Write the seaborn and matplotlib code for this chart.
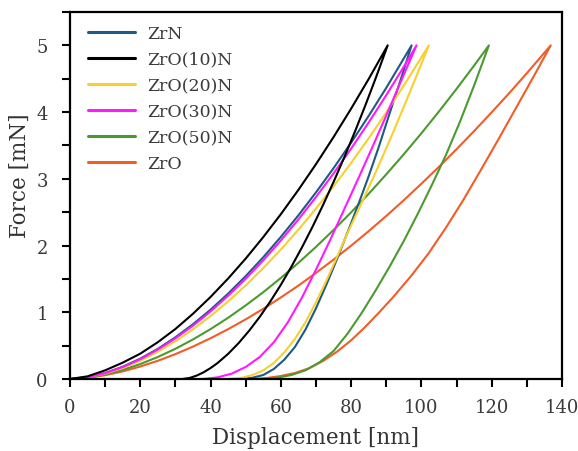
import numpy as np
import pandas as pd
import matplotlib
matplotlib.use("Agg")
import matplotlib.pyplot as plt
import seaborn as sns
from matplotlib.ticker import MultipleLocator
from matplotlib.lines import Line2D

samples = ["ZrN", "ZrO(10)N", "ZrO(20)N", "ZrO(30)N", "ZrO(50)N", "ZrO"]
colors = ["#1c5b82", "#000000", "#f9cf2f", "#ff19ff", "#4a9b2f", "#f25c27"]

# ZrN
zrn_load_h = [0, 5, 10, 15, 20, 25, 30, 35, 40, 45, 50, 55, 60, 65, 70, 75, 80, 85, 90, 97.2]
zrn_load_f = [0, 0.027, 0.089, 0.184, 0.305, 0.452, 0.625, 0.821, 1.039, 1.280, 1.542, 1.825,
              2.130, 2.453, 2.797, 3.160, 3.542, 3.944, 4.364, 5.0]
zrn_unl_h = [97.2, 94, 91, 88, 85, 82, 79, 76, 73, 70, 67, 64, 61, 58, 55, 52, 49]
zrn_unl_f = [5.0, 4.47, 3.99, 3.5, 3.04, 2.61, 2.2, 1.8, 1.42, 1.06, 0.74, 0.48, 0.29, 0.15,
             0.06, 0.02, 0]

# ZrO(10)N
z10_load_h = [0, 5, 10, 15, 20, 25, 30, 35, 40, 45, 50, 55, 60, 65, 70, 75, 80, 85, 90.4]
z10_load_f = [0, 0.04, 0.13, 0.245, 0.38, 0.552, 0.75, 0.978, 1.23, 1.506, 1.805, 2.127,
              2.47, 2.835, 3.22, 3.626, 4.052, 4.497, 5.0]
z10_unl_h = [90.4, 87, 84, 81, 78, 75, 72, 69, 66, 63, 60, 57, 54, 51, 48, 45, 42, 40, 38, 36, 34, 32]
z10_unl_f = [5.0, 4.51, 4.095, 3.697, 3.317, 2.953, 2.607, 2.28, 1.972, 1.683, 1.412, 1.162,
             0.932, 0.725, 0.539, 0.377, 0.24, 0.164, 0.1, 0.05, 0.015, 0]

# ZrO(20)N
z20_load_h = [0, 5, 10, 15, 20, 25, 30, 35, 40, 45, 50, 55, 60, 65, 70, 75, 80, 85, 90, 95, 102.1]
z20_load_f = [0, 0.023, 0.08, 0.165, 0.275, 0.408, 0.565, 0.744, 0.943, 1.163, 1.403, 1.663,
              1.941, 2.238, 2.554, 2.888, 3.238, 3.608, 3.995, 4.399, 5.0]
z20_unl_h = [102.1, 98.5, 95, 91, 87, 83, 79, 76, 73, 70, 67, 64, 61, 58, 55, 52, 49, 45.5]
z20_unl_f = [5.0, 4.53, 4.08, 3.58, 3.1, 2.64, 2.19, 1.83, 1.48, 1.15, 0.85, 0.6, 0.4, 0.24,
             0.13, 0.06, 0.02, 0]

# ZrO(30)N
z30_load_h = [0, 5, 10, 15, 20, 25, 30, 35, 40, 45, 50, 55, 60, 65, 70, 75, 80, 85, 90, 95, 98.6]
z30_load_f = [0, 0.026, 0.087, 0.179, 0.297, 0.441, 0.609, 0.8, 1.013, 1.248, 1.503, 1.779,
              2.076, 2.391, 2.727, 3.081, 3.453, 3.845, 4.254, 4.681, 5.0]
z30_unl_h = [98.6, 94, 90, 86, 82, 78, 74, 70, 66, 62, 58, 54, 50, 46, 42, 38]
z30_unl_f = [5.0, 4.44, 3.95, 3.47, 3.0, 2.54, 2.08, 1.64, 1.22, 0.85, 0.55, 0.33, 0.18,
             0.08, 0.025, 0]

# ZrO(50)N
z50_load_h = [0, 5, 10, 15, 20, 25, 30, 35, 40, 45, 50, 55, 60, 65, 70, 75, 80, 85, 90, 95,
              100, 105, 110, 115, 119.2]
z50_load_f = [0, 0.02, 0.067, 0.136, 0.224, 0.33, 0.453, 0.593, 0.748, 0.918, 1.103, 1.301,
              1.514, 1.741, 1.98, 2.233, 2.498, 2.776, 3.067, 3.369, 3.683, 4.01, 4.348, 4.698, 5.0]
z50_unl_h = [119.2, 115, 111, 107, 103, 99, 95, 91, 87, 83, 79, 75, 71, 67, 63, 59, 55]
z50_unl_f = [5.0, 4.4, 3.86, 3.36, 2.91, 2.48, 2.07, 1.69, 1.33, 0.99, 0.68, 0.42, 0.25,
             0.13, 0.06, 0.02, 0]

# ZrO
zro_load_h = [0, 5, 10, 15, 20, 25, 30, 35, 40, 45, 50, 55, 60, 65, 70, 75, 80, 85, 90, 95,
              100, 105, 110, 115, 120, 125, 130, 136.8]
zro_load_f = [0, 0.017, 0.057, 0.114, 0.187, 0.273, 0.373, 0.486, 0.611, 0.747, 0.894, 1.052,
              1.222, 1.4, 1.59, 1.789, 1.998, 2.216, 2.443, 2.68, 2.927, 3.18, 3.444, 3.716,
              3.997, 4.285, 4.583, 5.0]
zro_unl_h = [136.8, 132, 127, 122, 117, 112, 107, 102, 97, 92, 88, 84, 80, 76, 72, 68, 64,
             60, 56, 52]
zro_unl_f = [5.0, 4.54, 4.07, 3.6, 3.14, 2.69, 2.27, 1.88, 1.54, 1.23, 1.0, 0.78, 0.58, 0.41,
             0.27, 0.16, 0.09, 0.045, 0.015, 0]

curves = {
    "ZrN": (zrn_load_h + zrn_unl_h[1:], zrn_load_f + zrn_unl_f[1:]),
    "ZrO(10)N": (z10_load_h + z10_unl_h[1:], z10_load_f + z10_unl_f[1:]),
    "ZrO(20)N": (z20_load_h + z20_unl_h[1:], z20_load_f + z20_unl_f[1:]),
    "ZrO(30)N": (z30_load_h + z30_unl_h[1:], z30_load_f + z30_unl_f[1:]),
    "ZrO(50)N": (z50_load_h + z50_unl_h[1:], z50_load_f + z50_unl_f[1:]),
    "ZrO": (zro_load_h + zro_unl_h[1:], zro_load_f + zro_unl_f[1:]),
}

rows = []
for s in samples:
    hs, fs = curves[s]
    for i, (h, f) in enumerate(zip(hs, fs)):
        rows.append({"sample": s, "order": i, "h": h, "F": f})
df = pd.DataFrame(rows)

sns.set_style("ticks")
plt.rcParams["font.family"] = ["DejaVu Serif"]

fig = plt.figure(figsize=(5.78, 4.52), dpi=100)
ax = fig.add_axes([70/578, 1-380/452, (562-70)/578, (380-13)/452])

draw_order = ["ZrO", "ZrO(50)N", "ZrN", "ZrO(20)N", "ZrO(30)N", "ZrO(10)N"]
for s in draw_order:
    sub = df[df["sample"] == s]
    sns.lineplot(data=sub, x="h", y="F", sort=False, estimator=None,
                 color=colors[samples.index(s)], linewidth=1.5, ax=ax, legend=False)

ax.set_xlim(0, 140)
ax.set_ylim(0, 5.5)
ax.xaxis.set_major_locator(MultipleLocator(20))
ax.xaxis.set_minor_locator(MultipleLocator(10))
ax.yaxis.set_major_locator(MultipleLocator(1))
ax.yaxis.set_minor_locator(MultipleLocator(0.5))
ax.tick_params(which="both", direction="out", length=6, width=1.5, colors="black",
               labelcolor="#3a3a3a", labelsize=13, top=False, right=False)
ax.tick_params(axis="x", which="major", pad=8)
ax.tick_params(axis="y", which="major", pad=10)
for sp in ax.spines.values():
    sp.set_linewidth(1.6)
    sp.set_color("black")
    sp.set_visible(True)

ax.set_xlabel("Displacement [nm]", fontsize=15.5, color="#333333")
ax.set_ylabel("Force [mN]", fontsize=15.5, color="#333333")
ax.xaxis.set_label_coords(0.5, -0.129)
ax.yaxis.set_label_coords(-0.079, 0.556)

handles = [Line2D([0], [0], color=c, lw=2.2) for c in colors]
leg = ax.legend(handles, samples, loc="upper left", frameon=False, fontsize=12.5,
                handlelength=2.7, handletextpad=0.7, labelspacing=0.52,
                borderpad=0, borderaxespad=0, bbox_to_anchor=(0.036, 0.965))
for t in leg.get_texts():
    t.set_color("#3a3a3a")

fig.savefig("out.png", dpi=100)
